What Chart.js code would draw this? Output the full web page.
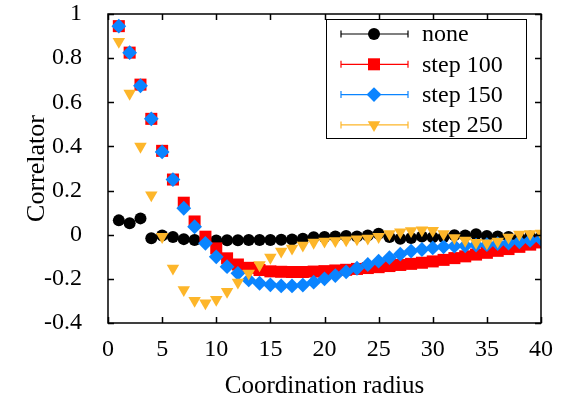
<!DOCTYPE html>
<html>
<head>
<meta charset="utf-8">
<script src="https://cdn.jsdelivr.net/npm/chart.js@4.4.1/dist/chart.umd.min.js"></script>
<style>
    html, body { margin: 0; padding: 0; background: #fff; }
    #wrap { width: 567px; height: 400px; }
</style>
</head>
<body>
<div id="wrap"><canvas id="myChart" width="567" height="400"></canvas></div>
<script>
const radius = [];
for (let r = 1; r <= 40; r++) radius.push(r);

const noneData = [0.065, 0.052, 0.074, -0.016, -0.004, -0.010, -0.020, -0.024, -0.025, -0.026,
    -0.025, -0.025, -0.024, -0.024, -0.024, -0.023, -0.022, -0.018, -0.012, -0.010,
    -0.008, -0.006, -0.008, -0.004, 0.004, -0.010, -0.018, -0.015, -0.008, -0.012,
    -0.010, -0.002, -0.004, 0.002, -0.006, -0.008, -0.010, -0.014, -0.008, -0.010];
const step100Data = [0.945, 0.825, 0.680, 0.525, 0.380, 0.250, 0.145, 0.060, -0.009, -0.062,
    -0.107, -0.135, -0.150, -0.160, -0.166, -0.168, -0.169, -0.169, -0.167, -0.165,
    -0.162, -0.159, -0.155, -0.151, -0.147, -0.142, -0.137, -0.132, -0.127, -0.121,
    -0.114, -0.106, -0.098, -0.090, -0.082, -0.073, -0.065, -0.055, -0.045, -0.035];
const step150Data = [0.945, 0.825, 0.675, 0.525, 0.375, 0.250, 0.120, 0.036, -0.039, -0.100,
    -0.145, -0.175, -0.205, -0.220, -0.227, -0.232, -0.232, -0.228, -0.215, -0.200,
    -0.185, -0.168, -0.152, -0.135, -0.120, -0.104, -0.088, -0.074, -0.067, -0.060,
    -0.055, -0.052, -0.050, -0.047, -0.045, -0.040, -0.038, -0.032, -0.026, -0.020];
const step250Data = [0.875, 0.640, 0.400, 0.180, -0.009, -0.152, -0.250, -0.298, -0.310, -0.294,
    -0.258, -0.216, -0.175, -0.137, -0.103, -0.075, -0.062, -0.048, -0.035, -0.030,
    -0.028, -0.024, -0.020, -0.016, -0.009, 0.004, 0.012, 0.018, 0.021, 0.019,
    0.004, -0.014, -0.026, -0.036, -0.038, -0.030, -0.012, 0.002, 0.004, 0.006];

const seriesLabels = ['none', 'step 100', 'step 150', 'step 250'];
const seriesColors = ['#000000', '#ff0000', '#0a84ff', '#fdb62a'];

const serif = '"Liberation Serif", "Times New Roman", serif';

function points(values) {
    return values.map((v, i) => ({ x: radius[i], y: v }));
}

const markers = [
    { pointStyle: 'circle', pointRadius: 6, pointRotation: 0 },
    { pointStyle: 'rect', pointRadius: 8.5, pointRotation: 0 },
    { pointStyle: 'rectRot', pointRadius: 7.4, pointRotation: 0 },
    { pointStyle: 'triangle', pointRadius: 7.2, pointRotation: 180 }
];

const allData = [noneData, step100Data, step150Data, step250Data];
const datasets = allData.map((values, i) => ({
    label: seriesLabels[i],
    data: points(values),
    showLine: false,
    backgroundColor: seriesColors[i],
    borderColor: seriesColors[i],
    borderWidth: 0,
    pointStyle: markers[i].pointStyle,
    pointRadius: markers[i].pointRadius,
    pointRotation: markers[i].pointRotation,
    order: 4 - i
}));

// frame with inward ticks on all four sides
const framePlugin = {
    id: 'frame',
    afterDraw(chart) {
        const ctx = chart.ctx;
        const a = chart.chartArea;
        const xs = chart.scales.x, ys = chart.scales.y;
        const len = 6;
        ctx.save();
        ctx.strokeStyle = '#000';
        ctx.lineWidth = 1.5;
        ctx.beginPath();
        xs.ticks.forEach(t => {
            const px = Math.round(xs.getPixelForValue(t.value)) + 0.5;
            ctx.moveTo(px, a.bottom); ctx.lineTo(px, a.bottom - len);
            ctx.moveTo(px, a.top); ctx.lineTo(px, a.top + len);
        });
        ys.ticks.forEach(t => {
            const py = Math.round(ys.getPixelForValue(t.value)) + 0.5;
            ctx.moveTo(a.left, py); ctx.lineTo(a.left + len, py);
            ctx.moveTo(a.right, py); ctx.lineTo(a.right - len, py);
        });
        ctx.stroke();
        ctx.strokeRect(a.left, a.top, a.right - a.left, a.bottom - a.top);
        ctx.restore();
    }
};

// gnuplot style key box with error-bar sample lines
const keyPlugin = {
    id: 'keyBox',
    afterDraw(chart) {
        const ctx = chart.ctx;
        const a = chart.chartArea;
        const boxL = a.right - 215, boxT = a.top + 5, boxW = 200, boxH = 119;
        ctx.save();
        ctx.fillStyle = '#fff';
        ctx.fillRect(boxL, boxT, boxW, boxH);
        ctx.strokeStyle = '#000';
        ctx.lineWidth = 1;
        ctx.strokeRect(boxL + 0.5, boxT + 0.5, boxW, boxH);
        chart.data.datasets.forEach((ds, i) => {
            const y = boxT + 15 + i * 30.3;
            const x0 = boxL + 15, x1 = boxL + 82, xm = boxL + 48;
            ctx.strokeStyle = ds.borderColor;
            ctx.lineWidth = 1.2;
            ctx.beginPath();
            ctx.moveTo(x0, y); ctx.lineTo(x1, y);
            ctx.moveTo(x0, y - 3.5); ctx.lineTo(x0, y + 3.5);
            ctx.moveTo(x1, y - 3.5); ctx.lineTo(x1, y + 3.5);
            ctx.stroke();
            ctx.fillStyle = ds.backgroundColor;
            Chart.helpers.drawPoint(ctx, {
                pointStyle: ds.pointStyle,
                radius: ds.pointRadius,
                rotation: ds.pointRotation,
                borderWidth: 0
            }, xm, y);
            ctx.fillStyle = '#000';
            ctx.font = '24px ' + serif;
            ctx.textAlign = 'left';
            ctx.textBaseline = 'middle';
            ctx.fillText(ds.label, boxL + 96, y + 1);
        });
        ctx.restore();
    }
};

const ctx = document.getElementById('myChart').getContext('2d');
const myChart = new Chart(ctx, {
    type: 'scatter',
    data: { datasets: datasets },
    options: {
        responsive: false,
        animation: false,
        layout: { padding: { top: 14, right: 26, left: 0, bottom: 0 } },
        plugins: {
            legend: { display: false },
            tooltip: { enabled: false }
        },
        scales: {
            x: {
                min: 0,
                max: 40,
                ticks: {
                    stepSize: 5,
                    color: '#000',
                    padding: 12,
                    maxRotation: 0,
                    font: { family: serif, size: 24 }
                },
                grid: { display: false, drawTicks: false },
                border: { display: false },
                title: {
                    display: true,
                    text: 'Coordination radius',
                    color: '#000',
                    font: { family: serif, size: 25 },
                    padding: { top: 0, bottom: -1 }
                },
                afterFit: (scale) => { scale.height = 77; }
            },
            y: {
                min: -0.4,
                max: 1,
                ticks: {
                    stepSize: 0.2,
                    color: '#000',
                    padding: 26,
                    font: { family: serif, size: 24 },
                    callback: (v) => Math.round(v * 10) / 10
                },
                grid: { display: false, drawTicks: false },
                border: { display: false },
                title: {
                    display: true,
                    text: 'Correlator',
                    color: '#000',
                    font: { family: serif, size: 26 },
                    padding: { top: 22, bottom: 0 }
                },
                afterFit: (scale) => {
                    scale.width = 108;
                    scale.paddingTop = 12;
                    scale.paddingBottom = 12;
                }
            }
        }
    },
    plugins: [framePlugin, keyPlugin]
});
</script>
</body>
</html>
